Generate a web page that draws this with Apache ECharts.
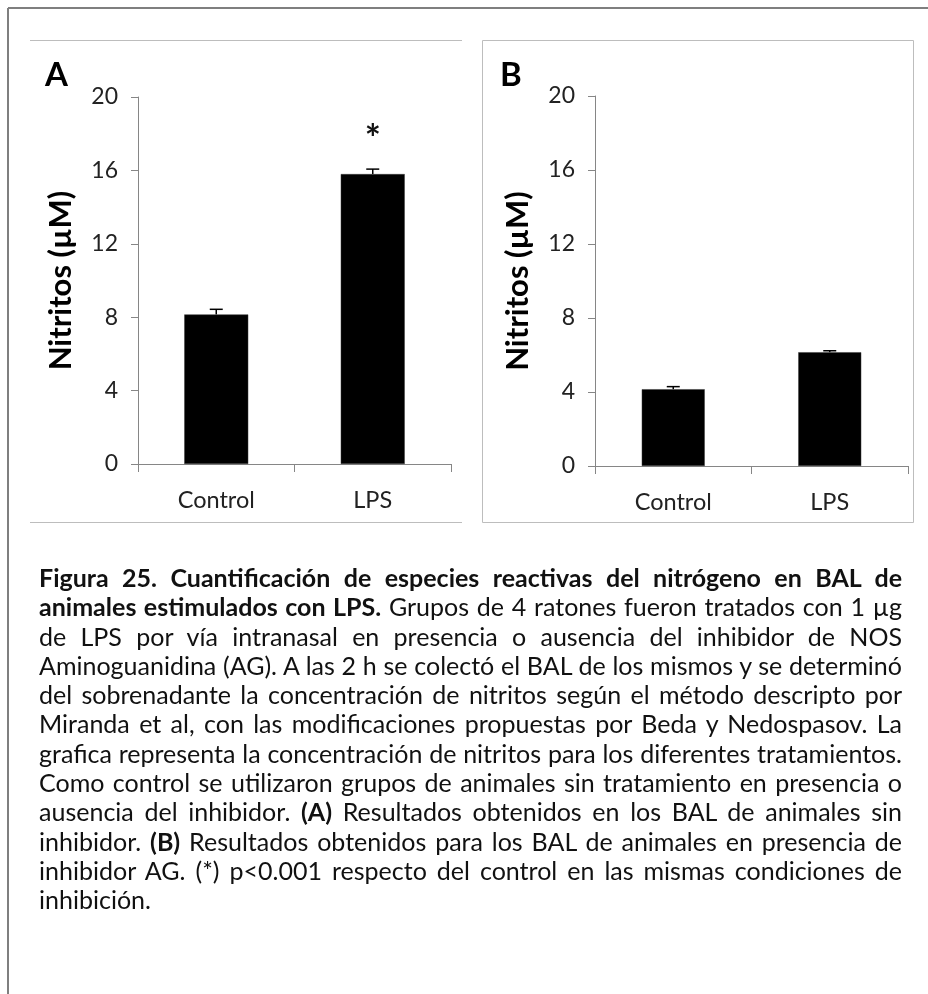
<!DOCTYPE html>
<html>
<head>
<meta charset="utf-8">
<script src="https://cdn.jsdelivr.net/npm/echarts@6/dist/echarts.min.js"></script>
<style>
  html, body { margin:0; padding:0; background:#fff; }
  #wrap { position:relative; width:928px; height:994px; overflow:hidden; }
  #chart { position:absolute; left:0; top:0; width:928px; height:994px; }
  #caption { position:absolute; left:39px; top:563px; width:863px; font-family: Lato, "Open Sans", sans-serif; font-size:20px; line-height:29.3px; color:#111; }
  #caption .ln { white-space:nowrap; height:29.3px; text-align:left; text-align-last:left; }
  #caption .ln.just { text-align:justify; text-align-last:justify; }
</style>
</head>
<body>
<div id="wrap">
  <div id="chart"></div>
  <div id="caption"></div>
</div>
<script>
// ---- data ----
const categories = ['Control', 'LPS'];
const nitritosA = [8.15, 15.8];
const errorA = [0.28, 0.27];
const nitritosB = [4.15, 6.15];
const errorB = [0.14, 0.08];
const yMin = 0, yMax = 20, yStep = 4;
const yAxisTitle = 'Nitritos (µM)';
const panelLetters = ['A', 'B'];
const significance = ['', '*'];   // panel A markers
const captionLines = [
  '<b>Figura 25. Cuantificación de especies reactivas del nitrógeno en BAL de</b>',
  '<b>animales estimulados con LPS.</b> Grupos de 4 ratones fueron tratados con 1 µg',
  'de LPS por vía intranasal en presencia o ausencia del inhibidor de NOS',
  'Aminoguanidina (AG). A las 2 h se colectó el BAL de los mismos y se determinó',
  'del sobrenadante la concentración de nitritos según el método descripto por',
  'Miranda et al, con las modificaciones propuestas por Beda y Nedospasov. La',
  'grafica representa la concentración de nitritos para los diferentes tratamientos.',
  'Como control se utilizaron grupos de animales sin tratamiento en presencia o',
  'ausencia del inhibidor. <b>(A)</b> Resultados obtenidos en los BAL de animales sin',
  'inhibidor. <b>(B)</b> Resultados obtenidos para los BAL de animales en presencia de',
  'inhibidor AG. (*) p&lt;0.001 respecto del control en las mismas condiciones de',
  'inhibición.'
];

// ---- caption: fit font so the tightest justified line just fills the width ----
const cap = document.getElementById('caption');
const CAPW = 863;
const lineDivs = captionLines.map((t) => {
  const d = document.createElement('div');
  d.className = 'ln';
  const s = document.createElement('span');
  s.innerHTML = t;
  d.appendChild(s);
  cap.appendChild(d);
  return d;
});
let maxW = 0;
lineDivs.forEach((d, i) => {
  if (i === lineDivs.length - 1) return;
  maxW = Math.max(maxW, d.firstChild.getBoundingClientRect().width);
});
const fitSize = 20 * (CAPW - 3) / maxW;
cap.style.fontSize = fitSize.toFixed(2) + 'px';
lineDivs.forEach((d, i) => { if (i < lineDivs.length - 1) d.classList.add('just'); });

// ---- chart ----
const FONT = 'Lato, "Open Sans", sans-serif';
const axisGray = '#868686';
const chart = echarts.init(document.getElementById('chart'), null, { renderer: 'canvas' });

function yAxisCfg(gridIndex) {
  return {
    type: 'value', gridIndex, min: yMin, max: yMax, interval: yStep,
    name: yAxisTitle, nameLocation: 'middle', nameRotate: 90, nameGap: 62,
    nameTextStyle: { fontFamily: FONT, fontWeight: 'bold', fontSize: 31, color: '#000' },
    axisLine: { show: true, lineStyle: { color: axisGray, width: 1 } },
    axisTick: { show: true, length: 7, lineStyle: { color: axisGray } },
    axisLabel: { margin: 20, fontFamily: FONT, fontSize: 23, color: '#222' },
    splitLine: { show: false }
  };
}
function xAxisCfg(gridIndex) {
  return {
    type: 'category', gridIndex, data: categories, boundaryGap: true,
    axisLine: { show: true, lineStyle: { color: axisGray, width: 1 } },
    axisTick: { show: true, length: 8, alignWithLabel: false, lineStyle: { color: axisGray } },
    axisLabel: { margin: 24, fontFamily: FONT, fontSize: 23.5, color: '#222' }
  };
}
function errSeries(idx, vals, errs) {
  return {
    type: 'custom', xAxisIndex: idx, yAxisIndex: idx, z: 1,
    data: vals.map((v, i) => [i, v, v + errs[i]]),
    renderItem: function (params, api) {
      const lo = api.coord([api.value(0), api.value(1)]);
      const hi = api.coord([api.value(0), api.value(2)]);
      const hw = 6.5;
      return {
        type: 'group',
        children: [
          { type: 'line', shape: { x1: lo[0], y1: lo[1], x2: hi[0], y2: hi[1] }, style: { stroke: '#000', lineWidth: 1.5 } },
          { type: 'line', shape: { x1: hi[0] - hw, y1: hi[1], x2: hi[0] + hw, y2: hi[1] }, style: { stroke: '#000', lineWidth: 1.5 } }
        ]
      };
    }
  };
}

chart.setOption({
  animation: false,
  grid: [
    { left: 138, right: 477, top: 97, bottom: 530 },
    { left: 595, right: 20, top: 96, bottom: 528 }
  ],
  xAxis: [xAxisCfg(0), xAxisCfg(1)],
  yAxis: [yAxisCfg(0), yAxisCfg(1)],
  series: [
    errSeries(0, nitritosA, errorA),
    {
      type: 'bar', xAxisIndex: 0, yAxisIndex: 0, barWidth: 64, z: 2,
      itemStyle: { color: '#000', borderColor: '#3a3a3a', borderWidth: 0.5 },
      data: nitritosA.map((v, i) => ({
        value: v,
        label: { show: !!significance[i], position: 'top', distance: 15, formatter: significance[i], fontFamily: FONT, fontWeight: 'bold', fontSize: 38, color: '#111' }
      }))
    },
    errSeries(1, nitritosB, errorB),
    {
      type: 'bar', xAxisIndex: 1, yAxisIndex: 1, barWidth: 63, z: 2,
      itemStyle: { color: '#000', borderColor: '#3a3a3a', borderWidth: 0.5 },
      data: nitritosB
    }
  ],
  graphic: [
    { type: 'line', shape: { x1: 8, y1: 8, x2: 928, y2: 8 }, style: { stroke: '#7f7f7f', lineWidth: 2 } },
    { type: 'line', shape: { x1: 8, y1: 8, x2: 8, y2: 994 }, style: { stroke: '#7f7f7f', lineWidth: 2 } },
    { type: 'line', shape: { x1: 30, y1: 40.5, x2: 462, y2: 40.5 }, style: { stroke: '#bdbdbd', lineWidth: 1 } },
    { type: 'line', shape: { x1: 30, y1: 522.5, x2: 462, y2: 522.5 }, style: { stroke: '#bdbdbd', lineWidth: 1 } },
    { type: 'rect', shape: { x: 482.5, y: 40.5, width: 431, height: 482 }, style: { fill: 'none', stroke: '#bdbdbd', lineWidth: 1 } },
    { type: 'text', left: 45, top: 59, style: { text: panelLetters[0], fontFamily: FONT, fontWeight: 'bold', fontSize: 33, fill: '#000' } },
    { type: 'text', left: 500, top: 59, style: { text: panelLetters[1], fontFamily: FONT, fontWeight: 'bold', fontSize: 33, fill: '#000' } }
  ]
});
</script>
</body>
</html>
